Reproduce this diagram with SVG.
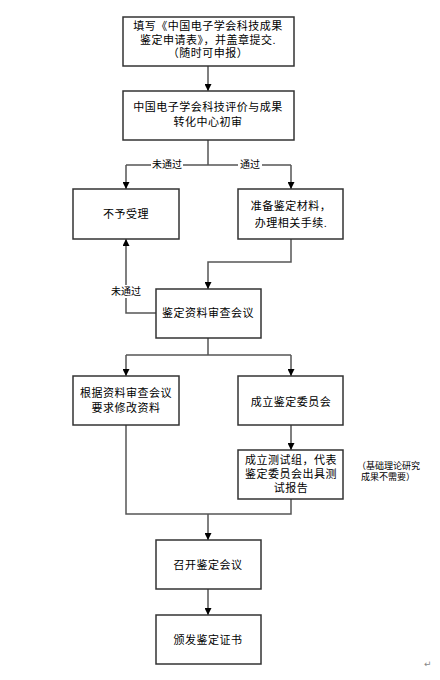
<svg xmlns="http://www.w3.org/2000/svg" width="440" height="680" viewBox="0 0 440 680">
<defs>
<style>
.box{fill:#fff;stroke:#333;stroke-width:1.5}
.t{font-family:"Liberation Sans","Noto Sans CJK SC",sans-serif;font-size:11px;fill:#000;text-anchor:middle;dominant-baseline:central;letter-spacing:0.5px}
.lbl{font-family:"Liberation Sans","Noto Sans CJK SC",sans-serif;font-size:10px;fill:#000;text-anchor:middle;dominant-baseline:central}
.note{font-family:"Liberation Sans","Noto Sans CJK SC",sans-serif;font-size:9px;fill:#000;dominant-baseline:central}
.ln{fill:none;stroke:#555;stroke-width:1.5}
</style>
<marker id="ah" viewBox="0 0 10 10" refX="10" refY="5" markerWidth="7" markerHeight="7" markerUnits="userSpaceOnUse" orient="auto">
<path d="M0,0 L10,5 L0,10 z" fill="#000"/>
</marker>
</defs>
<rect width="440" height="680" fill="#fff"/>
<g id="connectors">
<path class="ln" d="M208,66 V91" marker-end="url(#ah)"/>
<path class="ln" d="M208,140 V165 M126,165 H291"/>
<path class="ln" d="M126,165 V189" marker-end="url(#ah)"/>
<path class="ln" d="M291,165 V189" marker-end="url(#ah)"/>
<path class="ln" d="M291,239 V262 H208 V289" marker-end="url(#ah)"/>
<path class="ln" d="M156,313 H126 V239" marker-end="url(#ah)"/>
<path class="ln" d="M208,338 V355 M126,355 H291"/>
<path class="ln" d="M126,355 V376" marker-end="url(#ah)"/>
<path class="ln" d="M291,355 V376" marker-end="url(#ah)"/>
<path class="ln" d="M291,425 V450" marker-end="url(#ah)"/>
<path class="ln" d="M126,425 V514 H291 V499"/>
<path class="ln" d="M208,514 V540" marker-end="url(#ah)"/>
<path class="ln" d="M208,589 V615" marker-end="url(#ah)"/>
<rect x="151" y="158" width="32" height="13" fill="#fff"/>
<text class="lbl" x="167" y="164">未通过</text>
<rect x="238" y="158" width="24" height="13" fill="#fff"/>
<text class="lbl" x="250" y="164">通过</text>
<rect x="112" y="285" width="28" height="13" fill="#fff"/>
<text class="lbl" x="126" y="291">未通过</text>
</g>
<g id="n1">
<rect class="box" x="123" y="17" width="171" height="49"/>
<text class="t" x="208" y="26">填写《中国电子学会科技成果</text>
<text class="t" x="208" y="40">鉴定申请表》，并盖章提交.</text>
<text class="t" x="208" y="53">（随时可申报）</text>
</g>
<g id="n2">
<rect class="box" x="123" y="91" width="171" height="49"/>
<text class="t" x="208" y="107">中国电子学会科技评价与成果</text>
<text class="t" x="208" y="122">转化中心初审</text>
</g>
<g id="n3">
<rect class="box" x="73" y="189" width="106" height="50"/>
<text class="t" x="126" y="214">不予受理</text>
</g>
<g id="n4">
<rect class="box" x="238" y="189" width="105" height="50"/>
<text class="t" x="291" y="206">准备鉴定材料，</text>
<text class="t" x="291" y="223">办理相关手续.</text>
</g>
<g id="n5">
<rect class="box" x="156" y="289" width="105" height="49"/>
<text class="t" x="208" y="313">鉴定资料审查会议</text>
</g>
<g id="n6">
<rect class="box" x="73" y="376" width="106" height="49"/>
<text class="t" x="126" y="393">根据资料审查会议</text>
<text class="t" x="126" y="408">要求修改资料</text>
</g>
<g id="n7">
<rect class="box" x="238" y="376" width="105" height="49"/>
<text class="t" x="291" y="402">成立鉴定委员会</text>
</g>
<g id="n8">
<rect class="box" x="238" y="450" width="105" height="49"/>
<text class="t" x="291" y="460">成立测试组，代表</text>
<text class="t" x="291" y="474">鉴定委员会出具测</text>
<text class="t" x="291" y="488">试报告</text>
</g>
<g id="note">
<text class="note" x="357" y="466">（基础理论研究</text>
<text class="note" x="361" y="477">成果不需要）</text>
</g>
<g id="n9">
<rect class="box" x="156" y="540" width="105" height="49"/>
<text class="t" x="208" y="565">召开鉴定会议</text>
</g>
<g id="n10">
<rect class="box" x="156" y="615" width="105" height="49"/>
<text class="t" x="208" y="640">颁发鉴定证书</text>
</g>
<text x="424" y="667" font-family="DejaVu Sans,sans-serif" font-size="9" fill="#888">↵</text>
</svg>
